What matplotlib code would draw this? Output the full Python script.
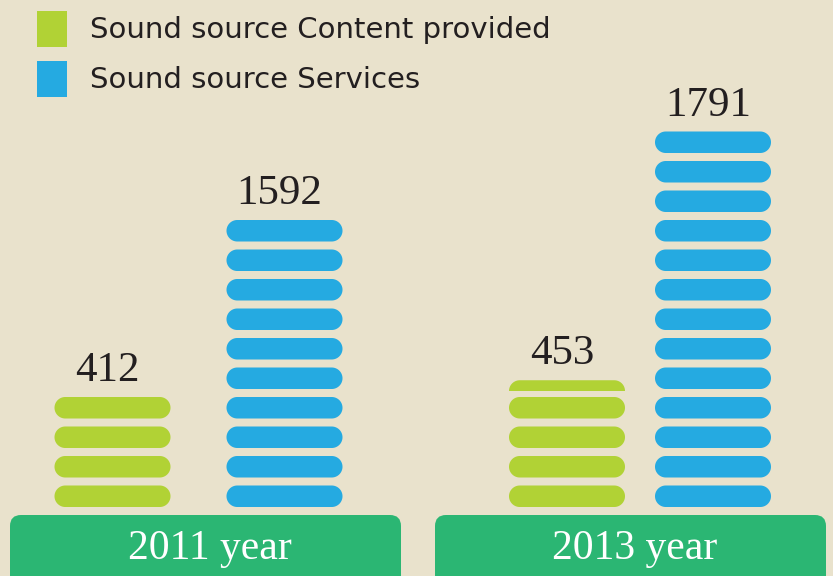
import matplotlib

matplotlib.use("Agg")
import numpy as np
import matplotlib.pyplot as plt
from matplotlib.patches import FancyBboxPatch, Polygon, Rectangle

# data
years = ["2011 year", "2013 year"]
series = ["Sound source Content provided", "Sound source Services"]
values = [[412, 453], [1592, 1791]]  # printed numbers per series per year
pills = [[4, 4.5], [10, 13]]  # stacked pills drawn per series per year

bg = "#E9E2CC"
colors = ["#B1D235", "#25AAE1"]
box_color = "#2BB673"
text_color = "#231F20"

W, H = 833, 576
fig = plt.figure(figsize=(W / 100, H / 100), dpi=100, facecolor=bg)
ax = fig.add_axes([0, 0, 1, 1])
ax.set_xlim(0, W)
ax.set_ylim(H, 0)
ax.set_facecolor(bg)
ax.axis("off")

# layout in pixel units
base = 507  # bottom of lowest pill
pitch = 29.5
pill_h = 21.5
pill_w = 116
centers = [[112.5, 567], [284.5, 713]]  # [series][year]
box_left = [10, 435]
box_w = 391


def pill(x_center, y_top, color, clip_h=None):
    """draw a pill (stadium shape) as one polygon"""
    r = pill_h / 2
    yc = y_top + r
    t = np.linspace(-np.pi / 2, np.pi / 2, 40)
    right = np.column_stack([x_center + pill_w / 2 - r + r * np.cos(t), yc + r * np.sin(t)])
    left = np.column_stack([x_center - pill_w / 2 + r - r * np.cos(t), yc - r * np.sin(t)])
    p = Polygon(np.vstack([right, left]), closed=True, facecolor=color, edgecolor="none")
    ax.add_patch(p)
    if clip_h is not None:
        clip = Rectangle(
            (x_center - pill_w / 2, y_top), pill_w, clip_h, transform=ax.transData
        )
        p.set_clip_path(clip)


for g, year in enumerate(years):
    # green year box at the bottom
    ax.add_patch(
        FancyBboxPatch(
            (box_left[g], 515),
            box_w,
            80,
            boxstyle="round,pad=0,rounding_size=11",
            facecolor=box_color,
            edgecolor="none",
        )
    )
    ax.text(
        box_left[g] + box_w / 2 + 4,
        559,
        year,
        color="white",
        fontsize=30,
        family="Liberation Serif",
        ha="center",
        va="baseline",
    )
    for s in range(len(series)):
        cx = centers[s][g]
        n = pills[s][g]
        full = int(n)
        for i in range(full):
            pill(cx, base - i * pitch - pill_h, colors[s])
        top = base - (full - 1) * pitch - pill_h
        frac = n - full
        if frac > 0:
            # partial pill: only its upper part shows
            ptop = top - 6 - frac * pill_h
            pill(cx, ptop, colors[s], clip_h=frac * pill_h)
            top = ptop
        ax.text(
            cx - 5,
            top - 16,
            str(values[s][g]),
            color=text_color,
            fontsize=31,
            family="Liberation Serif",
            ha="center",
            va="baseline",
        )

# legend
for s, name in enumerate(series):
    y = 29 + s * 50
    ax.add_patch(
        Rectangle((37, y - 18), 30, 36, facecolor=colors[s], edgecolor="none")
    )
    ax.text(
        90,
        y + 1,
        name,
        color=text_color,
        fontsize=21,
        family="DejaVu Sans",
        ha="left",
        va="center",
    )

fig.savefig("out.png", dpi=100, facecolor=bg)
